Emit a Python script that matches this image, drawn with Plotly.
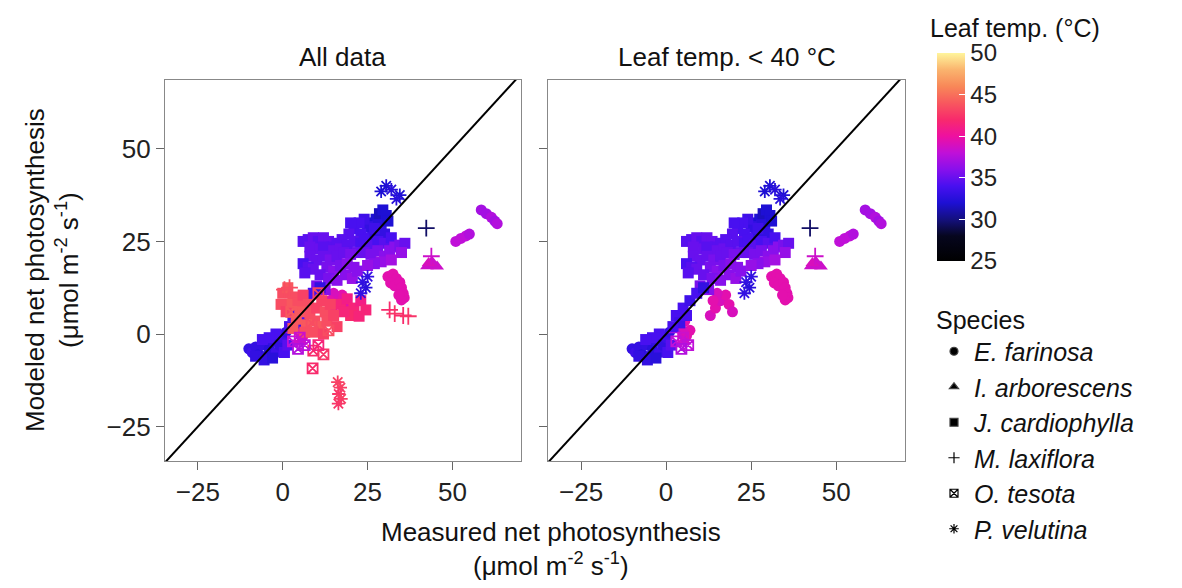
import numpy as np
import plotly.graph_objects as go

# ---- data (measured, modeled, leaf temperature) ----
# E. farinosa
ef_x = [58.5, 60.0, 61.5, 62.5, 63.2, 51.0, 52.5, 54.0, 55.0,
        31.0, 32.5, 33.5, 31.8, 33.0, 34.5, 35.0, 35.5, 35.8, 35.0, 34.2,
        -10.0, -9.0, -8.0, -7.0, -6.0, -5.0, -4.0, -3.0, -2.0, -1.0, 0.0, 1.0,
        13, 14.5, 16, 17.5, 15, 18.5, 19.5, 13.8,
        4, 5.5, 7, 6, 5]
ef_y = [33.5, 32.5, 31.5, 30.5, 29.8, 25.0, 25.8, 26.5, 27.0,
        15.5, 16.2, 15.0, 13.8, 13.0, 14.0, 12.5, 11.0, 9.8, 9.2, 10.5,
        -4.0, -5.0, -3.5, -5.5, -3.0, -6.0, -4.0, -2.0, -5.0, -3.0, -1.0, 0.5,
        5, 7, 9, 10.5, 11, 8, 6, 9,
        2, 3.5, 1, -0.5, 0.5]
ef_t = [37, 37, 37.5, 37, 37.5, 38, 38, 38, 37.5,
        39.5, 39.5, 39.5, 39.5, 39.5, 39.5, 39.5, 39.5, 39.5, 39.5, 39.5,
        33, 33.5, 33, 32.5, 33, 33, 32.5, 33, 33.5, 33, 33.5, 33,
        39, 39.5, 39, 39.5, 39, 39.5, 39, 39.5,
        39.5, 39.5, 39.5, 39.5, 39]

# I. arborescens
ia_x = [42.5, 43.5, 44.5, 45.5, 44.0, 43.0, 2.5, 4.0, 5.5]
ia_y = [18.3, 18.8, 18.5, 18.2, 19.5, 19.2, 1.0, 2.5, -2.0]
ia_t = [38.5, 38.5, 38.5, 38.5, 38.5, 39, 37, 37.5, 38]

# J. cardiophylla
jc_x = [26, 27.5, 28.5, 29.5, 30.5, 28, 26.5, 25, 24, 22.5, 21, 20, 19.5, 23, 25.5, 27, 29, 31, 30,
        6, 7.5, 9, 10.5, 12, 13.5, 8, 11, 14.5, 16, 17.5,
        8, 10, 12, 15, 17, 19, 21, 23, 22, 24, 26, 28, 30, 32, 27,
        6, 7.5, 9, 6.5,
        12, 14, 16, 18, 20, 13, 15, 17, 19, 21, 11, 13.5, 16, 18.5, 20.5, 22, 10, 12.5,
        24, 26, 28, 30, 31.5, 33, 34.5, 36, 35, 29, 27, 25, 32,
        3, 5, 7, 9, 11, 4, 6,
        -2, -4, -6, -8, -5.5, -3, 0.5, 1.5, 2,
        17, 19, 21, 23, 24.5, 20, 22.5, 18,
        0, 1.5, 3, 2, 4.5, 6, 7.5, 5, 8, 10, 11.5, 12.5, 14, 9.5, 11, 13, 15, 7, 6.5, 9, 12, 4, 3, -0.5, 1, 16]
jc_y = [30, 31, 32.5, 33.5, 32, 29.5, 28, 29, 31, 30, 28.5, 30, 27, 27, 26, 26.5, 28, 30.5, 27,
        25, 25.5, 26, 25, 26, 25, 23.5, 23, 23.5, 24.5, 25.5,
        21, 20, 23.5, 22.5, 23, 24, 25, 24.5, 22, 25.5, 24, 25, 24.5, 26, 28.5,
        19, 18, 17.5, 16.5,
        21, 20, 21, 22, 21.5, 18, 17, 18.5, 19, 18, 16, 15, 14.5, 16, 15, 17, 13, 12,
        22, 21.5, 22.5, 21, 22.5, 23.5, 24, 24.5, 22, 19.5, 19, 18.5, 20,
        5, 7, 9, 11, 12.5, 3, 5,
        0, -1, -1.5, -6, -7, -6.5, -5, -3, 2,
        8, 9.5, 7, 9, 6.5, 5, 4.8, 6,
        11, 12.5, 10, 8, 8.5, 10.5, 8, 6, 5.5, 7, 9, 6, 8, 3.5, 2, 3.5, 5, 2.5, 0.5, 0.5, 0, 4, 1.5, 8, 6, 2]
jc_t = [32, 32, 31.5, 32, 32, 32.5, 33, 33, 33.5, 34, 34, 34, 34.5, 34, 34, 33, 33, 32, 33,
        34.5, 34.5, 35, 34.5, 35, 35, 35, 35, 34.5, 34.5, 34.5,
        35, 35, 34.5, 35, 35, 34.5, 34.5, 34, 35, 34, 34.5, 34, 34.5, 34, 33.5,
        34, 34.5, 35, 34.5,
        35, 35.5, 35, 35, 35.5, 35.5, 36, 35.5, 36, 36, 35, 35.5, 36, 36, 36.5, 36, 35.5, 36,
        35, 35.5, 35.5, 36, 36, 36, 35.5, 35, 36.5, 36.5, 36, 36.5, 37,
        34, 34, 33.5, 34, 33, 33.5, 34,
        34, 34, 34, 33, 33, 32.5, 34, 34.5, 34,
        41.5, 41, 41.5, 41, 41.5, 42, 41.5, 41.5,
        43.5, 44, 43.5, 44, 43.5, 43, 43.5, 44, 43.5, 43, 43, 43.5, 43, 43.5, 44, 43.5, 43, 44, 43.5, 43.5, 43, 44, 44, 43.5, 43, 43]

# M. laxiflora
ml_x = [42.3, 43.8, 31.5, 33.0, 35.5, 37.0, 0.5, 2.0]
ml_y = [28.6, 21.0, 6.5, 5.5, 5.0, 4.8, 12.0, 12.5]
ml_t = [29.5, 38.5, 42, 42.5, 42, 42.5, 43.5, 43.5]

# O. tesota
ot_x = [9, 8.8, 12, 10.5, 3, 5, 6.5, 4.5, 10.5, 8.5, 2.5, 13.5]
ot_y = [-4.5, -9.3, -5.5, -3, -2, -1, -3, -4, 11, 3, 6, 1]
ot_t = [42, 42, 42.5, 41.5, 38, 38.5, 38, 37.5, 43, 43.5, 44, 43.5]

# P. velutina
pv_x = [29, 30.5, 32, 34.5, 33.5, 23.5, 24.5, 23, 25, 16.2, 17, 16.5, 17.2, 16.4]
pv_y = [38.5, 40, 39, 37.5, 36.5, 14, 12.5, 11, 15.5, -13, -14.5, -16.2, -17.5, -18.8]
pv_t = [32, 32, 32.5, 32, 32.5, 33, 32.5, 33, 33, 43, 43, 42.5, 43, 42.5]

species = [
    ("E. farinosa", ef_x, ef_y, ef_t, "circle", 11),
    ("I. arborescens", ia_x, ia_y, ia_t, "triangle-up", 12),
    ("J. cardiophylla", jc_x, jc_y, jc_t, "square", 11),
    ("M. laxiflora", ml_x, ml_y, ml_t, "cross-thin-open", 12),
    ("O. tesota", ot_x, ot_y, ot_t, "square-x-open", 10),
    ("P. velutina", pv_x, pv_y, pv_t, "asterisk-open", 11),
]

temp_scale = [
    [0.00, "#000000"], [0.12, "#06061e"], [0.20, "#14107e"], [0.28, "#1e10d4"],
    [0.36, "#4810f0"], [0.44, "#8810ec"], [0.52, "#c010d8"], [0.60, "#ee10a0"],
    [0.68, "#f82a6c"], [0.76, "#f8585e"], [0.84, "#f88858"], [0.92, "#fab46e"],
    [1.00, "#fff59c"],
]

FONT = "Liberation Sans, Arial, sans-serif"

fig = go.Figure()

first = True
for panel, (xa, ya) in enumerate([("x", "y"), ("x2", "y2")]):
    for name, xs, ys, ts, sym, sz in species:
        xs, ys, ts = np.array(xs), np.array(ys), np.array(ts)
        if panel == 1:
            keep = ts < 40
            xs, ys, ts = xs[keep], ys[keep], ts[keep]
        mk = dict(symbol=sym, size=sz, color=ts, colorscale=temp_scale,
                  cmin=25, cmax=50, showscale=False, line=dict(width=0))
        if sym.endswith("open"):
            mk["line"] = dict(width=1.8)
        if first:
            mk["showscale"] = True
            mk["colorbar"] = dict(
                x=(937 - 165) / 740, xanchor="left", xpad=0, ypad=0,
                y=(461 - 157) / 381, yanchor="middle",
                thickness=28, lenmode="pixels", len=208,
                tickvals=[25, 30, 35, 40, 45, 50], ticks="inside", ticklen=6,
                tickcolor="white", outlinewidth=0,
                tickfont=dict(size=24, color="#222", family=FONT))
            first = False
        fig.add_trace(go.Scatter(x=xs, y=ys, mode="markers", marker=mk,
                                 xaxis=xa, yaxis=ya, showlegend=False, hoverinfo="skip"))
    # 1:1 line
    fig.add_trace(go.Scatter(x=[-40, 80], y=[-40, 80], mode="lines",
                             line=dict(color="black", width=2),
                             xaxis=xa, yaxis=ya, showlegend=False, hoverinfo="skip"))

# legend entries
for name, xs, ys, ts, sym, sz in species:
    fig.add_trace(go.Scatter(x=[None], y=[None], mode="markers", name="<i>" + name + "</i>",
                             marker=dict(symbol=sym, size=8, color="black", line=dict(width=1.2))))

axis_common = dict(range=[-34.7, 70.2], tickvals=[-25, 0, 25, 50], ticks="outside", ticklen=8,
                   tickcolor="#666", tickwidth=1, showline=True, mirror=True, linecolor="#888",
                   linewidth=1.2, zeroline=False, showgrid=False,
                   tickfont=dict(size=26, color="#222", family=FONT))
yaxis_common = dict(axis_common, range=[-34.3, 68.6])

# the page body adds an 8px margin, so the figure is 8px smaller than the window
fig.update_layout(
    width=1174, height=580,
    margin=dict(l=157, r=277, t=72, b=127, autoexpand=False),
    paper_bgcolor="white", plot_bgcolor="white",
    font=dict(family=FONT, size=26, color="#111"),
    xaxis=dict(axis_common, domain=[0, 0.481], anchor="y"),
    xaxis2=dict(axis_common, domain=[0.5176, 1], anchor="y2"),
    yaxis=dict(yaxis_common, anchor="x"),
    yaxis2=dict(yaxis_common, anchor="x2", showticklabels=False),
    legend=dict(x=(934 - 165) / 740, xanchor="left", y=(461 - 296) / 381, yanchor="top",
                title=dict(text="Species", font=dict(size=25)),
                font=dict(size=25, family=FONT), itemsizing="trace",
                bgcolor="rgba(0,0,0,0)", tracegroupgap=0),
    annotations=[
        dict(text="All data", x=0.2405, y=(461 - 57) / 381, xref="paper", yref="paper",
             xanchor="center", yanchor="middle", showarrow=False),
        dict(text="Leaf temp. &lt; 40 °C", x=0.759, y=(461 - 57) / 381, xref="paper", yref="paper",
             xanchor="center", yanchor="middle", showarrow=False),
        dict(text="Leaf temp. (°C)", x=(928 - 165) / 740, y=(461 - 28) / 381, xref="paper", yref="paper",
             xanchor="left", yanchor="middle", showarrow=False, font=dict(size=25)),
        dict(text="Measured net photosynthesis<br>(μmol m<sup>-2</sup> s<sup>-1</sup>)",
             x=(551 - 165) / 740, y=(461 - 515) / 381, xref="paper", yref="paper",
             xanchor="center", yanchor="top", showarrow=False, font=dict(size=26)),
        dict(text="Modeled net photosynthesis<br>(μmol m<sup>-2</sup> s<sup>-1</sup>)",
             x=(52 - 165) / 740, y=(461 - 270) / 381, xref="paper", yref="paper",
             xanchor="center", yanchor="middle", textangle=-90, showarrow=False, font=dict(size=26)),
    ],
)

fig.write_html("out.html")
